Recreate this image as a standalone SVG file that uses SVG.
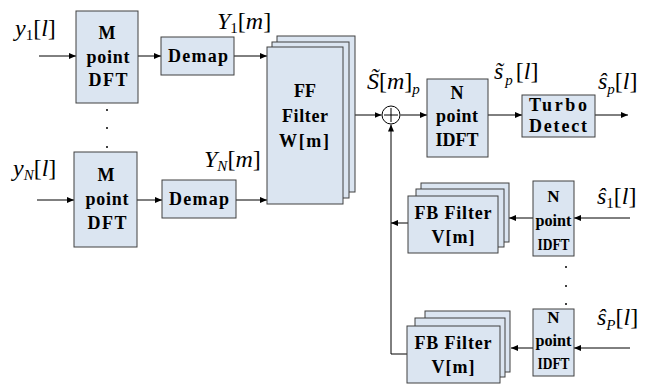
<svg xmlns="http://www.w3.org/2000/svg" width="663" height="385" viewBox="0 0 663 385">
<defs>
<marker id="ah" markerWidth="7" markerHeight="6" refX="7" refY="3" orient="auto" markerUnits="userSpaceOnUse">
<path d="M0,0 L7,3 L0,6 Z" fill="#000"/>
</marker>
<style>
.box{fill:#dbe5f1;stroke:#404040;stroke-width:1}
.lbl{font-family:"Liberation Serif","Times New Roman",serif;font-weight:bold;font-size:18px;fill:#000;text-anchor:middle}
.sm{font-size:17px}
.math{font-family:"Liberation Serif","Times New Roman",serif;font-size:24px;fill:#000}
.it{font-style:italic}
.sub{font-size:15px}
.wire{stroke:#000;stroke-width:1;fill:none}
.arr{stroke:#000;stroke-width:1;fill:none;marker-end:url(#ah)}
.dot{fill:#000}
</style>
</defs>
<rect width="663" height="385" fill="#fff"/>

<g id="connectors">
<line class="arr" x1="39" y1="56" x2="76" y2="56"/>
<line class="arr" x1="138" y1="56" x2="161" y2="56"/>
<line class="arr" x1="234" y1="56" x2="267" y2="56"/>
<line class="arr" x1="37" y1="200" x2="74" y2="200"/>
<line class="arr" x1="137" y1="200" x2="162" y2="200"/>
<line class="arr" x1="236" y1="200" x2="267" y2="200"/>
<line class="arr" x1="343" y1="115" x2="381.5" y2="115"/>
<line class="arr" x1="400.5" y1="115" x2="427" y2="115"/>
<line class="arr" x1="488" y1="115" x2="522" y2="115"/>
<line class="arr" x1="595" y1="115" x2="628" y2="115"/>
<polyline class="arr" points="408,354 391,354 391,124.5"/>
<line class="arr" x1="408" y1="223" x2="391" y2="223"/>
<line class="arr" x1="533" y1="218" x2="509" y2="218"/>
<line class="arr" x1="630" y1="218" x2="574" y2="218"/>
<line class="arr" x1="533" y1="348" x2="511" y2="348"/>
<line class="arr" x1="630" y1="348" x2="574" y2="348"/>
</g>

<g id="dots">
<circle class="dot" cx="107" cy="110" r="1"/>
<circle class="dot" cx="107" cy="128" r="1"/>
<circle class="dot" cx="107" cy="147" r="1"/>
<circle class="dot" cx="566" cy="267" r="1"/>
<circle class="dot" cx="566" cy="286" r="1"/>
<circle class="dot" cx="566" cy="304" r="1"/>
</g>

<g id="dft1">
<rect class="box" x="76" y="11" width="62" height="92"/>
<text class="lbl" x="107" y="39">M</text>
<text class="lbl" x="108" y="63" textLength="43" lengthAdjust="spacing">point</text>
<text class="lbl" x="108" y="86" textLength="39" lengthAdjust="spacing">DFT</text>
</g>
<g id="dft2">
<rect class="box" x="74" y="152" width="63" height="95"/>
<text class="lbl" x="106" y="181">M</text>
<text class="lbl" x="107" y="205" textLength="43" lengthAdjust="spacing">point</text>
<text class="lbl" x="107" y="229" textLength="39" lengthAdjust="spacing">DFT</text>
</g>
<g id="demap1">
<rect class="box" x="161" y="37" width="73" height="38"/>
<text class="lbl" x="198" y="62" textLength="60" lengthAdjust="spacing">Demap</text>
</g>
<g id="demap2">
<rect class="box" x="162" y="180" width="74" height="38"/>
<text class="lbl" x="199" y="205" textLength="60" lengthAdjust="spacing">Demap</text>
</g>
<g id="ff">
<rect class="box" x="277" y="36" width="78" height="156"/>
<rect class="box" x="272" y="42" width="77" height="156"/>
<rect class="box" x="267" y="47" width="76" height="157"/>
<text class="lbl" x="305" y="97">FF</text>
<text class="lbl" x="305" y="122" textLength="46" lengthAdjust="spacing">Filter</text>
<text class="lbl" x="304" y="147" textLength="50" lengthAdjust="spacing">W[m]</text>
</g>
<g id="sum">
<circle cx="391" cy="115" r="9" fill="#fff" stroke="#000" stroke-width="1"/>
<line class="wire" x1="384" y1="115" x2="398" y2="115"/>
<line class="wire" x1="391" y1="108" x2="391" y2="122"/>
</g>
<g id="idft">
<rect class="box" x="427" y="79" width="61" height="78"/>
<text class="lbl" x="457" y="99">N</text>
<text class="lbl" x="457" y="122" textLength="42" lengthAdjust="spacing">point</text>
<text class="lbl" x="457" y="146" textLength="43" lengthAdjust="spacing">IDFT</text>
</g>
<g id="turbo">
<rect class="box" x="522" y="95" width="73" height="42"/>
<text class="lbl" x="558" y="111" textLength="58" lengthAdjust="spacing">Turbo</text>
<text class="lbl" x="558" y="132" textLength="58" lengthAdjust="spacing">Detect</text>
</g>
<g id="fb1">
<rect class="box" x="421" y="183" width="88" height="59"/>
<rect class="box" x="416" y="189" width="88" height="58"/>
<rect class="box" x="408" y="196" width="90" height="57"/>
<text class="lbl" x="453" y="219" textLength="77" lengthAdjust="spacing">FB Filter</text>
<text class="lbl" x="453" y="243" textLength="43" lengthAdjust="spacing">V[m]</text>
</g>
<g id="fb2">
<rect class="box" x="425" y="311" width="85" height="61"/>
<rect class="box" x="415" y="318" width="90" height="59"/>
<rect class="box" x="407" y="326" width="93" height="57"/>
<text class="lbl" x="453" y="349" textLength="77" lengthAdjust="spacing">FB Filter</text>
<text class="lbl" x="453" y="373" textLength="43" lengthAdjust="spacing">V[m]</text>
</g>
<g id="idft1">
<rect class="box" x="533" y="181" width="41" height="75"/>
<text class="lbl sm" x="553.5" y="202">N</text>
<text class="lbl sm" x="553.5" y="226" textLength="36" lengthAdjust="spacingAndGlyphs">point</text>
<text class="lbl sm" x="553.5" y="250" textLength="32" lengthAdjust="spacingAndGlyphs">IDFT</text>
</g>
<g id="idft2">
<rect class="box" x="533" y="309" width="41" height="67"/>
<text class="lbl sm" x="553.5" y="323">N</text>
<text class="lbl sm" x="553.5" y="346" textLength="36" lengthAdjust="spacingAndGlyphs">point</text>
<text class="lbl sm" x="553.5" y="369" textLength="32" lengthAdjust="spacingAndGlyphs">IDFT</text>
</g>

<g id="labels">
<text class="math" x="15" y="36"><tspan class="it">y</tspan><tspan class="sub" dy="4">1</tspan><tspan dy="-4">[</tspan><tspan class="it">l</tspan>]</text>
<text class="math" x="13" y="176"><tspan class="it">y</tspan><tspan class="sub it" dy="4">N</tspan><tspan dy="-4">[</tspan><tspan class="it">l</tspan>]</text>
<text class="math" x="217" y="29"><tspan class="it">Y</tspan><tspan class="sub" dy="4">1</tspan><tspan dy="-4">[</tspan><tspan class="it">m</tspan>]</text>
<text class="math" x="204" y="167"><tspan class="it">Y</tspan><tspan class="sub it" dy="4">N</tspan><tspan dy="-4">[</tspan><tspan class="it">m</tspan>]</text>
<text class="math" x="367" y="89"><tspan class="it">S̃</tspan>[<tspan class="it">m</tspan>]<tspan class="sub it" dy="5">p</tspan></text>
<text class="math" x="494" y="79"><tspan class="it">s̃</tspan><tspan class="sub it" dy="6" dx="2">p</tspan><tspan dy="-6" dx="3">[</tspan><tspan class="it">l</tspan>]</text>
<text class="math" x="598" y="89"><tspan class="it">ŝ</tspan><tspan class="sub it" dy="5">p</tspan><tspan dy="-5">[</tspan><tspan class="it">l</tspan>]</text>
<text class="math" x="597" y="204"><tspan class="it">ŝ</tspan><tspan class="sub" dy="4">1</tspan><tspan dy="-4">[</tspan><tspan class="it">l</tspan>]</text>
<text class="math" x="597" y="325"><tspan class="it">ŝ</tspan><tspan class="sub it" dy="5">P</tspan><tspan dy="-5">[</tspan><tspan class="it">l</tspan>]</text>
</g>
</svg>
